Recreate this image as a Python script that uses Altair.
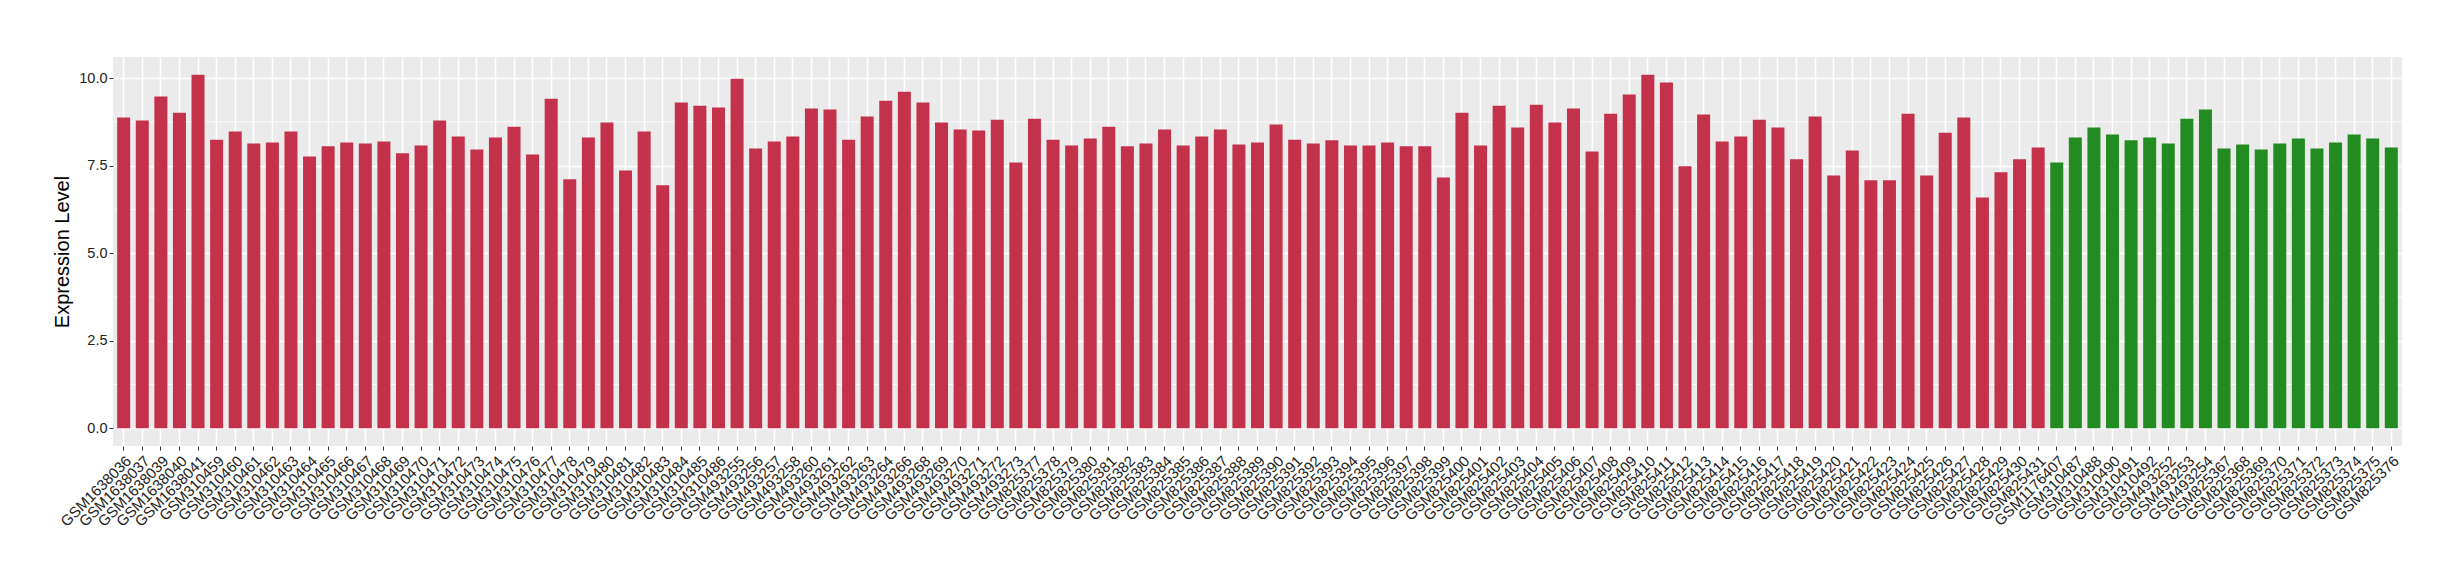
import altair as alt
import pandas as pd

tumor_samples = [
    "GSM1638036", "GSM1638037", "GSM1638039", "GSM1638040", "GSM1638041",
    "GSM310459", "GSM310460", "GSM310461", "GSM310462", "GSM310463", "GSM310464",
    "GSM310465", "GSM310466", "GSM310467", "GSM310468", "GSM310469", "GSM310470",
    "GSM310471", "GSM310472", "GSM310473", "GSM310474", "GSM310475", "GSM310476",
    "GSM310477", "GSM310478", "GSM310479", "GSM310480", "GSM310481", "GSM310482",
    "GSM310483", "GSM310484", "GSM310485", "GSM310486",
    "GSM493255", "GSM493256", "GSM493257", "GSM493258", "GSM493260", "GSM493261",
    "GSM493262", "GSM493263", "GSM493264", "GSM493266", "GSM493268", "GSM493269",
    "GSM493270", "GSM493271", "GSM493272", "GSM493273",
    "GSM825377", "GSM825378", "GSM825379", "GSM825380", "GSM825381", "GSM825382",
    "GSM825383", "GSM825384", "GSM825385", "GSM825386", "GSM825387", "GSM825388",
    "GSM825389", "GSM825390", "GSM825391", "GSM825392", "GSM825393", "GSM825394",
    "GSM825395", "GSM825396", "GSM825397", "GSM825398", "GSM825399", "GSM825400",
    "GSM825401", "GSM825402", "GSM825403", "GSM825404", "GSM825405", "GSM825406",
    "GSM825407", "GSM825408", "GSM825409", "GSM825410", "GSM825411", "GSM825412",
    "GSM825413", "GSM825414", "GSM825415", "GSM825416", "GSM825417", "GSM825418",
    "GSM825419", "GSM825420", "GSM825421", "GSM825422", "GSM825423", "GSM825424",
    "GSM825425", "GSM825426", "GSM825427", "GSM825428", "GSM825429", "GSM825430",
    "GSM825431",
]
tumor_values = [
    8.87, 8.79, 9.47, 9.01, 10.09,
    8.24, 8.47, 8.13, 8.16, 8.47, 7.76,
    8.05, 8.16, 8.13, 8.19, 7.85, 8.07,
    8.79, 8.33, 7.96, 8.30, 8.61, 7.82,
    9.41, 7.11, 8.30, 8.73, 7.36, 8.47,
    6.94, 9.30, 9.21, 9.16,
    9.98, 7.99, 8.19, 8.33, 9.13, 9.10,
    8.24, 8.90, 9.35, 9.61, 9.30, 8.73,
    8.53, 8.50, 8.81, 7.59,
    8.84, 8.24, 8.07, 8.27, 8.61, 8.05,
    8.13, 8.53, 8.07, 8.33, 8.53, 8.10,
    8.16, 8.67, 8.24, 8.13, 8.22, 8.07,
    8.07, 8.16, 8.05, 8.05, 7.16, 9.01,
    8.07, 9.21, 8.59, 9.24, 8.73, 9.13,
    7.90, 8.98, 9.53, 10.09, 9.87, 7.48,
    8.96, 8.19, 8.33, 8.81, 8.59, 7.68,
    8.90, 7.22, 7.93, 7.08, 7.08, 8.98,
    7.22, 8.44, 8.87, 6.59, 7.31, 7.68,
    8.02,
]
normal_samples = [
    "GSM1176407", "GSM310487", "GSM310488", "GSM310490", "GSM310491", "GSM310492",
    "GSM493252", "GSM493253", "GSM493254", "GSM825367", "GSM825368", "GSM825369",
    "GSM825370", "GSM825371", "GSM825372", "GSM825373", "GSM825374", "GSM825375",
    "GSM825376",
]
normal_values = [
    7.59, 8.30, 8.59, 8.39, 8.22, 8.30,
    8.13, 8.84, 9.10, 7.99, 8.10, 7.96,
    8.13, 8.27, 7.99, 8.16, 8.39, 8.27,
    8.02,
]
groups = ["Tumor", "Normal"]
group_colors = ["#C4314A", "#228B22"]
y_ticks = [0, 2.5, 5, 7.5, 10]
y_minor = [1.25, 3.75, 6.25, 8.75]

samples = tumor_samples + normal_samples
df = pd.DataFrame({
    "sample": samples,
    "value": tumor_values + normal_values,
    "group": [groups[0]] * len(tumor_samples) + [groups[1]] * len(normal_samples),
})
minor_df = pd.DataFrame({"y": y_minor})

FONT = "Liberation Sans"
y_scale = alt.Scale(domain=[-0.505, 10.6], nice=False, zero=False)

minor = alt.Chart(minor_df).mark_rule(color="white", strokeWidth=0.8).encode(
    y=alt.Y("y:Q", scale=y_scale)
)

bars = alt.Chart(df).mark_bar().encode(
    x=alt.X(
        "sample:N",
        sort=samples,
        scale=alt.Scale(paddingInner=0.3, paddingOuter=0.225),
        axis=alt.Axis(
            title=None,
            labelAngle=-45,
            labelAlign="right",
            labelBaseline="top",
            labelFontSize=15,
            labelFont=FONT,
            labelColor="#222222",
            labelPadding=3,
            labelOverlap=False,
            labelLimit=300,
            tickColor="#333333",
            tickSize=4,
            tickWidth=1,
            domain=False,
            grid=True,
            gridColor="white",
            gridWidth=1.6,
            bandPosition=0.5,
        ),
    ),
    y=alt.Y(
        "value:Q",
        scale=y_scale,
        axis=alt.Axis(
            title="Expression Level",
            titleFont=FONT,
            titleFontSize=20,
            titleFontWeight="normal",
            titleColor="black",
            titlePadding=6,
            values=y_ticks,
            format=".1f",
            labelFontSize=14.5,
            labelFont=FONT,
            labelColor="#222222",
            labelPadding=2,
            tickColor="#333333",
            tickSize=4,
            tickWidth=1,
            domain=False,
            grid=True,
            gridColor="white",
            gridWidth=1.6,
        ),
    ),
    color=alt.Color(
        "group:N",
        scale=alt.Scale(domain=groups, range=group_colors),
        legend=None,
    ),
)

chart = alt.layer(minor, bars).properties(
    width=2289,
    height=389,
    autosize=alt.AutoSizeParams(type="none"),
    padding={"left": 105, "top": 49, "right": 50, "bottom": 126},
).configure_view(
    fill="#EBEBEB",
    stroke=None,
)

chart.save("out.html", embed_options={"renderer": "svg", "actions": False})
